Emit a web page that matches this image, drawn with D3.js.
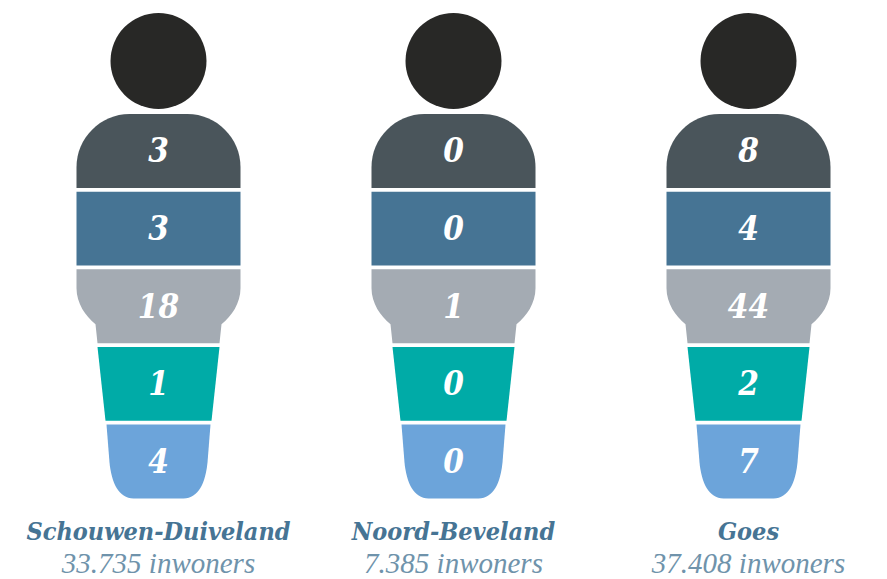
<!DOCTYPE html>
<html>
<head>
<meta charset="utf-8">
<script src="https://cdn.jsdelivr.net/npm/d3@7"></script>
<style>
html, body { margin: 0; padding: 0; background: #fff; }
svg { display: block; }
</style>
</head>
<body>
<div id="chart"></div>
<script>
var regions = ["Schouwen-Duiveland", "Noord-Beveland", "Goes"];
var inhabitants = ["33.735 inwoners", "7.385 inwoners", "37.408 inwoners"];
var segments = ["a", "b", "c", "d", "e"];
var segmentColors = ["#4a555b", "#467494", "#a4abb3", "#00aba7", "#6ca4da"];
var valuesA = [3, 0, 8];
var valuesB = [3, 0, 4];
var valuesC = [18, 1, 44];
var valuesD = [1, 0, 2];
var valuesE = [4, 0, 7];
var allValues = [valuesA, valuesB, valuesC, valuesD, valuesE];

var width = 887, height = 579;

var svg = d3.select("#chart").append("svg")
    .attr("width", width)
    .attr("height", height);

var x = d3.scalePoint().domain(regions).range([158.5, 748.5]);
var y = d3.scaleBand().domain(segments).range([114, 498.5]).paddingInner(0.048);
var color = d3.scaleOrdinal().domain(segments).range(segmentColors);

// outline of one body part, drawn around x = 0 from the top of its band
function segmentPath(seg) {
    var h = y.bandwidth(), p = d3.path();
    if (seg === "a") {
        p.moveTo(-82, h);
        p.lineTo(-82, 53);
        p.bezierCurveTo(-82, 24, -58, 0, -29, 0);
        p.lineTo(29, 0);
        p.bezierCurveTo(58, 0, 82, 24, 82, 53);
        p.lineTo(82, h);
    } else if (seg === "b") {
        p.rect(-82, 0, 164, h);
    } else if (seg === "c") {
        p.moveTo(-82, 0);
        p.lineTo(82, 0);
        p.lineTo(82, 19);
        p.bezierCurveTo(82, 34, 73, 47, 63, 55);
        p.lineTo(61, h);
        p.lineTo(-61, h);
        p.lineTo(-63, 55);
        p.bezierCurveTo(-73, 47, -82, 34, -82, 19);
    } else if (seg === "d") {
        p.moveTo(-61, 0);
        p.lineTo(61, 0);
        p.lineTo(53, h);
        p.lineTo(-53, h);
    } else {
        p.moveTo(-52, 0);
        p.lineTo(52, 0);
        p.lineTo(49, 38);
        p.bezierCurveTo(47, 58, 40, h, 25, h);
        p.lineTo(-25, h);
        p.bezierCurveTo(-40, h, -47, 58, -49, 38);
    }
    p.closePath();
    return p.toString();
}

var person = svg.selectAll("g.person")
    .data(regions)
    .enter().append("g")
    .attr("class", "person")
    .attr("transform", function (d) { return "translate(" + x(d) + ",0)"; });

person.append("circle")
    .attr("cy", 61)
    .attr("r", 48)
    .style("fill", "#282826");

segments.forEach(function (seg, s) {
    person.append("path")
        .attr("transform", "translate(0," + y(seg) + ")")
        .attr("d", segmentPath(seg))
        .style("fill", color(seg));

    person.append("text")
        .attr("y", y(seg) + y.bandwidth() / 2 + 11.5)
        .attr("text-anchor", "middle")
        .style("font-family", "'DejaVu Serif Condensed', 'DejaVu Serif'")
        .style("font-weight", "bold")
        .style("font-style", "italic")
        .style("font-size", "33px")
        .style("fill", "#fff")
        .text(function (d, i) { return allValues[s][i]; });
});

person.append("text")
    .attr("y", 540)
    .attr("text-anchor", "middle")
    .style("font-family", "'DejaVu Serif Condensed', 'DejaVu Serif'")
    .style("font-weight", "bold")
    .style("font-style", "italic")
    .style("font-size", "25px")
    .style("fill", "#467494")
    .text(function (d) { return d; });

person.append("text")
    .attr("y", 573)
    .attr("text-anchor", "middle")
    .style("font-family", "'Liberation Serif'")
    .style("font-style", "italic")
    .style("font-size", "29px")
    .style("fill", "#6f93ab")
    .text(function (d, i) { return inhabitants[i]; });
</script>
</body>
</html>
